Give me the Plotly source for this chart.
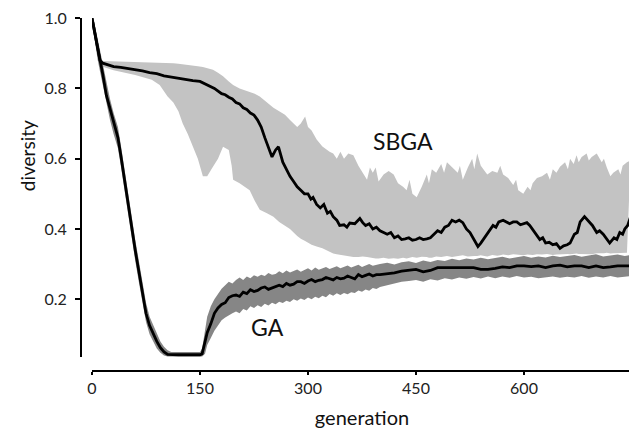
import plotly.graph_objects as go

# ---------------- data ----------------
ga_gen = [0, 3, 6, 8, 11, 15, 20, 25, 30, 36, 40, 45, 50, 55, 60, 65, 70, 75, 80, 85,
          90, 95, 100, 105, 110, 120, 130, 140, 150, 153, 157, 160, 165, 170, 175, 180,
          185, 190, 195, 200, 205, 210, 215, 220, 225, 230, 235, 240, 245, 250, 255, 260,
          265, 270, 275, 280, 285, 290, 295, 300, 305, 310, 315, 320, 325, 330, 335, 340,
          345, 350, 355, 360, 365, 370, 375, 380, 385, 390, 395, 400, 410, 420, 430, 440,
          450, 460, 470, 480, 490, 500, 510, 520, 530, 540, 550, 560, 570, 580, 590, 600,
          610, 620, 630, 640, 650, 660, 670, 680, 690, 700, 710, 720, 730, 740, 748]
ga_mean = [1.0, 0.97, 0.93, 0.91, 0.88, 0.84, 0.78, 0.74, 0.70, 0.66, 0.61, 0.54, 0.47, 0.40,
           0.34, 0.28, 0.22, 0.16, 0.125, 0.10, 0.08, 0.062, 0.05, 0.043, 0.042, 0.042, 0.042,
           0.042, 0.042, 0.045, 0.08, 0.105, 0.13, 0.16, 0.175, 0.185, 0.19, 0.205, 0.21,
           0.212, 0.208, 0.22, 0.216, 0.227, 0.222, 0.225, 0.232, 0.235, 0.228, 0.232, 0.238,
           0.24, 0.236, 0.245, 0.24, 0.243, 0.25, 0.25, 0.245, 0.252, 0.256, 0.25, 0.254,
           0.256, 0.262, 0.258, 0.255, 0.262, 0.258, 0.26, 0.266, 0.262, 0.258, 0.27, 0.264,
           0.268, 0.272, 0.266, 0.27, 0.27, 0.272, 0.275, 0.28, 0.283, 0.285, 0.278, 0.282,
           0.29, 0.29, 0.29, 0.29, 0.29, 0.29, 0.285, 0.285, 0.288, 0.292, 0.29, 0.295,
           0.295, 0.293, 0.295, 0.29, 0.295, 0.297, 0.292, 0.295, 0.295, 0.29, 0.295, 0.29,
           0.292, 0.295, 0.295, 0.295]
ga_upper = [1.0, 0.99, 0.96, 0.94, 0.91, 0.87, 0.81, 0.77, 0.73, 0.69, 0.64, 0.57, 0.50, 0.43,
            0.37, 0.31, 0.25, 0.19, 0.15, 0.125, 0.10, 0.08, 0.065, 0.055, 0.05, 0.05, 0.05,
            0.05, 0.05, 0.06, 0.12, 0.15, 0.18, 0.20, 0.215, 0.23, 0.24, 0.25, 0.245, 0.255,
            0.262, 0.255, 0.265, 0.26, 0.268, 0.264, 0.27, 0.266, 0.275, 0.27, 0.272, 0.28,
            0.274, 0.282, 0.276, 0.28, 0.285, 0.278, 0.283, 0.288, 0.282, 0.29, 0.284, 0.288,
            0.292, 0.286, 0.29, 0.294, 0.288, 0.292, 0.296, 0.29, 0.294, 0.298, 0.292, 0.297,
            0.3, 0.295, 0.298, 0.30, 0.304, 0.299, 0.305, 0.308, 0.303, 0.31, 0.306, 0.312,
            0.309, 0.315, 0.311, 0.316, 0.313, 0.318, 0.314, 0.317, 0.321, 0.316, 0.32, 0.323,
            0.318, 0.322, 0.319, 0.324, 0.32, 0.322, 0.326, 0.321, 0.325, 0.328, 0.322, 0.325,
            0.327, 0.323, 0.326]
ga_lower = [0.99, 0.95, 0.90, 0.88, 0.85, 0.81, 0.75, 0.71, 0.67, 0.63, 0.58, 0.51, 0.44, 0.37,
            0.31, 0.25, 0.19, 0.135, 0.10, 0.08, 0.06, 0.048, 0.04, 0.037, 0.037, 0.037, 0.037,
            0.037, 0.037, 0.037, 0.045, 0.07, 0.09, 0.11, 0.125, 0.14, 0.148, 0.155, 0.16,
            0.165, 0.16, 0.172, 0.168, 0.18, 0.175, 0.183, 0.178, 0.187, 0.182, 0.19, 0.186,
            0.193, 0.189, 0.196, 0.192, 0.20, 0.196, 0.202, 0.198, 0.205, 0.2, 0.207, 0.203,
            0.21, 0.206, 0.215, 0.21, 0.217, 0.212, 0.218, 0.214, 0.22, 0.218, 0.225, 0.221,
            0.228, 0.224, 0.232, 0.229, 0.235, 0.24, 0.245, 0.25, 0.252, 0.255, 0.25, 0.257,
            0.253, 0.26, 0.256, 0.262, 0.258, 0.263, 0.259, 0.265, 0.26, 0.265, 0.261, 0.266,
            0.262, 0.264, 0.26, 0.263, 0.265, 0.261, 0.264, 0.262, 0.266, 0.261, 0.265, 0.262,
            0.266, 0.262, 0.265, 0.266]

sbga_gen = [0, 3, 6, 8, 11, 15, 20, 30, 40, 50, 60, 70, 80, 90, 100, 110, 120, 130, 140, 150,
            160, 170, 180, 185, 190, 195, 200, 205, 210, 215, 220, 225, 230, 235, 240, 245,
            250, 255, 259, 265, 270, 275, 280, 285, 290, 295, 300, 304, 307, 312, 317, 322,
            327, 331, 335, 340, 344, 350, 354, 358, 365, 372, 376, 380, 385, 390, 395, 400,
            405, 410, 415, 420, 425, 430, 435, 440, 445, 450, 455, 460, 465, 470, 475, 480,
            485, 490, 495, 500, 505, 510, 515, 520, 525, 530, 536, 540, 545, 550, 557, 561,
            565, 571, 575, 580, 585, 590, 595, 600, 604, 608, 615, 622, 626, 630, 635, 640,
            645, 650, 655, 660, 664, 670, 674, 678, 684, 690, 695, 701, 705, 710, 714, 719,
            725, 729, 733, 737, 740, 744, 748]
sbga_mean = [1.0, 0.97, 0.93, 0.91, 0.88, 0.872, 0.868, 0.862, 0.86, 0.857, 0.853, 0.85, 0.845,
             0.842, 0.836, 0.832, 0.83, 0.826, 0.822, 0.82, 0.81, 0.80, 0.785, 0.782, 0.775,
             0.77, 0.76, 0.756, 0.745, 0.74, 0.73, 0.724, 0.71, 0.69, 0.66, 0.63, 0.605, 0.625,
             0.634, 0.59, 0.57, 0.55, 0.535, 0.52, 0.51, 0.50, 0.50, 0.485, 0.49, 0.47, 0.46,
             0.47, 0.445, 0.45, 0.435, 0.425, 0.41, 0.412, 0.405, 0.417, 0.415, 0.43, 0.418,
             0.41, 0.415, 0.40, 0.405, 0.395, 0.39, 0.385, 0.39, 0.375, 0.38, 0.37, 0.372,
             0.375, 0.368, 0.37, 0.375, 0.37, 0.372, 0.375, 0.385, 0.395, 0.39, 0.405, 0.41,
             0.425, 0.42, 0.425, 0.418, 0.40, 0.39, 0.37, 0.35, 0.36, 0.375, 0.39, 0.41,
             0.405, 0.42, 0.425, 0.42, 0.415, 0.42, 0.42, 0.412, 0.415, 0.418, 0.41, 0.39,
             0.37, 0.375, 0.36, 0.362, 0.355, 0.358, 0.345, 0.352, 0.355, 0.36, 0.385, 0.39,
             0.42, 0.435, 0.42, 0.41, 0.39, 0.395, 0.385, 0.375, 0.36, 0.375, 0.37, 0.39,
             0.385, 0.40, 0.41, 0.435]

sbga_band_gen = [0, 6, 11, 15, 30, 60, 83, 94, 105, 113, 120, 126, 133, 140, 147, 154, 160,
                 168, 175, 182, 190, 194, 196, 205, 212, 219, 226, 233, 243, 252, 260, 268,
                 275, 285, 290, 296, 300, 305, 312, 320, 330, 335, 340, 345, 350, 356, 363,
                 370, 376, 382, 386, 390, 394, 398, 405, 412, 419, 425, 432, 437, 441, 445,
                 451, 458, 465, 468, 472, 478, 485, 489, 493, 500, 508, 511, 515, 522, 528,
                 531, 535, 540, 545, 549, 556, 563, 567, 571, 578, 585, 589, 592, 599, 605,
                 609, 612, 618, 625, 632, 636, 640, 645, 650, 657, 661, 664, 669, 673, 676,
                 680, 687, 690, 694, 701, 708, 711, 715, 720, 724, 731, 734, 737, 743, 748]
sbga_upper = [1.0, 0.94, 0.89, 0.878, 0.877, 0.876, 0.875, 0.874, 0.874, 0.872, 0.87, 0.868,
              0.867, 0.865, 0.863, 0.861, 0.858, 0.853, 0.845, 0.835, 0.82, 0.812, 0.81,
              0.80, 0.795, 0.79, 0.785, 0.777, 0.76, 0.745, 0.735, 0.725, 0.71, 0.69, 0.70,
              0.72, 0.69, 0.68, 0.655, 0.635, 0.62, 0.615, 0.60, 0.62, 0.60, 0.615, 0.61,
              0.58, 0.56, 0.54, 0.575, 0.56, 0.575, 0.535, 0.555, 0.565, 0.555, 0.53, 0.52,
              0.51, 0.54, 0.50, 0.49, 0.52, 0.555, 0.53, 0.57, 0.56, 0.585, 0.56, 0.59,
              0.575, 0.56, 0.58, 0.54, 0.575, 0.60, 0.57, 0.615, 0.58, 0.565, 0.555, 0.565,
              0.56, 0.58, 0.555, 0.545, 0.525, 0.54, 0.51, 0.50, 0.52, 0.51, 0.53, 0.545,
              0.55, 0.56, 0.54, 0.57, 0.56, 0.577, 0.59, 0.57, 0.60, 0.585, 0.61, 0.59,
              0.605, 0.615, 0.595, 0.605, 0.615, 0.59, 0.60, 0.575, 0.55, 0.56, 0.57, 0.555,
              0.58, 0.59, 0.595]
sbga_lower = [1.0, 0.92, 0.87, 0.862, 0.852, 0.838, 0.825, 0.81, 0.777, 0.76, 0.735, 0.70,
              0.67, 0.634, 0.60, 0.55, 0.55, 0.577, 0.60, 0.634, 0.625, 0.58, 0.54, 0.53,
              0.52, 0.51, 0.48, 0.455, 0.445, 0.435, 0.42, 0.41, 0.40, 0.38, 0.372, 0.366,
              0.36, 0.355, 0.35, 0.345, 0.335, 0.33, 0.328, 0.326, 0.325, 0.323, 0.32, 0.32,
              0.322, 0.32, 0.318, 0.318, 0.316, 0.316, 0.318, 0.315, 0.317, 0.315, 0.318,
              0.316, 0.318, 0.32, 0.318, 0.321, 0.32, 0.318, 0.318, 0.322, 0.32, 0.321,
              0.323, 0.32, 0.322, 0.323, 0.325, 0.322, 0.324, 0.323, 0.323, 0.325, 0.323,
              0.322, 0.326, 0.324, 0.325, 0.327, 0.325, 0.328, 0.327, 0.326, 0.325, 0.327,
              0.326, 0.326, 0.328, 0.327, 0.329, 0.328, 0.326, 0.327, 0.328, 0.33, 0.329,
              0.328, 0.33, 0.33, 0.329, 0.329, 0.33, 0.33, 0.328, 0.331, 0.33, 0.331, 0.332,
              0.33, 0.331, 0.331, 0.332, 0.33, 0.332]

x_ticks = [0, 150, 300, 450, 600, 750]
x_ticklabels = ["0", "150", "300", "450", "600", ""]
y_ticks = [0.2, 0.4, 0.6, 0.8, 1.0]
y_ticklabels = ["0.2", "0.4", "0.6", "0.8", "1.0"]

LIGHT = "#c3c3c3"
DARK = "#868686"
FONT = "Lato"

fig = go.Figure()
# SBGA band
fig.add_trace(go.Scatter(x=sbga_band_gen, y=sbga_upper, mode="lines", line=dict(width=0),
                         hoverinfo="skip", showlegend=False))
fig.add_trace(go.Scatter(x=sbga_band_gen, y=sbga_lower, mode="lines", line=dict(width=0),
                         fill="tonexty", fillcolor=LIGHT, hoverinfo="skip", showlegend=False))
# GA band
fig.add_trace(go.Scatter(x=ga_gen, y=ga_upper, mode="lines", line=dict(width=0),
                         hoverinfo="skip", showlegend=False))
fig.add_trace(go.Scatter(x=ga_gen, y=ga_lower, mode="lines", line=dict(width=0),
                         fill="tonexty", fillcolor=DARK, hoverinfo="skip", showlegend=False))
# means
fig.add_trace(go.Scatter(x=sbga_gen, y=sbga_mean, mode="lines", name="SBGA",
                         line=dict(color="black", width=2.8), showlegend=False))
fig.add_trace(go.Scatter(x=ga_gen, y=ga_mean, mode="lines", name="GA",
                         line=dict(color="black", width=2.8), showlegend=False))

fig.add_annotation(x=432, y=0.651, xref="x", yref="y", text="SBGA", showarrow=False,
                   font=dict(family=FONT, size=23, color="#111"))
fig.add_annotation(x=244, y=0.12, xref="x", yref="y", text="GA", showarrow=False,
                   font=dict(family=FONT, size=23, color="#111"))
fig.add_annotation(x=-0.097, y=0.61, xref="paper", yref="paper", text="diversity",
                   textangle=-90, showarrow=False, xanchor="center", yanchor="middle",
                   font=dict(family=FONT, size=19, color="#111"))

fig.update_layout(
    width=637, height=432,
    margin=dict(l=73, r=13, t=10, b=69, autoexpand=False),
    paper_bgcolor="white", plot_bgcolor="white",
    font=dict(family=FONT, size=16, color="#222"),
    xaxis=dict(domain=[11 / 551, 1], range=[0, 750], anchor="free", position=0,
               automargin=False, ticklabeloverflow="allow",
               tickmode="array", tickvals=x_ticks, ticktext=x_ticklabels,
               showgrid=False, zeroline=False, showline=True, linecolor="black",
               linewidth=2, ticks="outside", ticklen=3, tickwidth=2, tickcolor="black",
               title=dict(text="generation", font=dict(family=FONT, size=20, color="#111"),
                          standoff=14)),
    yaxis=dict(domain=[14 / 353, 1], range=[0.0356, 1.0005], anchor="free", position=0,
               automargin=False, ticklabeloverflow="allow",
               tickmode="array", tickvals=y_ticks, ticktext=y_ticklabels,
               showgrid=False, zeroline=False, showline=True, linecolor="black",
               linewidth=2, ticks="outside", ticklen=5, tickwidth=2, tickcolor="black",
               ticklabelstandoff=5),
)

fig.write_html("out.html")
